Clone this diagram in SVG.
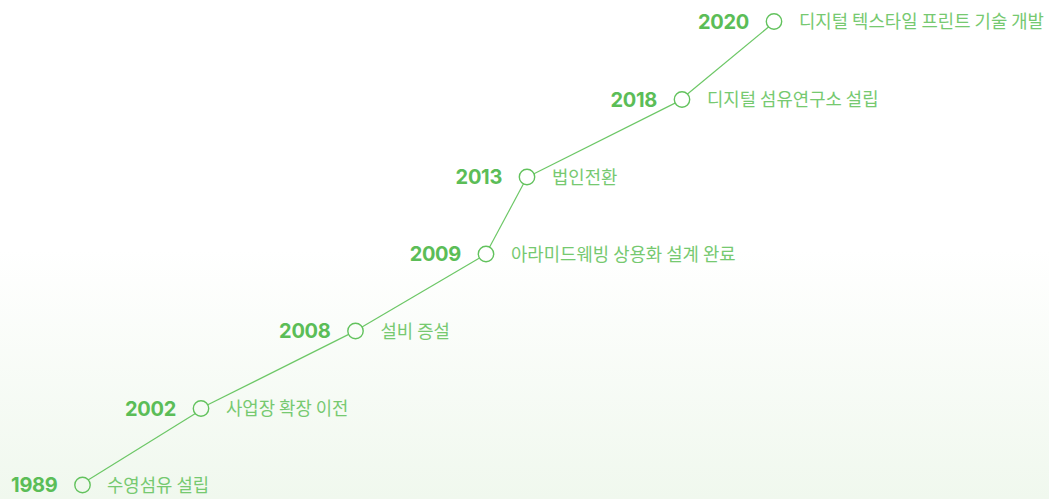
<svg xmlns="http://www.w3.org/2000/svg" width="1049" height="499" viewBox="0 0 1049 499">
<defs>
<linearGradient id="bg" x1="0" y1="0" x2="0" y2="1">
<stop offset="0" stop-color="#ffffff"/>
<stop offset="0.5" stop-color="#ffffff"/>
<stop offset="1" stop-color="#f0f8ee"/>
</linearGradient>
<style>
.yr{font-family:Inter,"Liberation Sans",sans-serif;font-weight:700;font-size:20px;fill:#5bbd57;text-anchor:end;letter-spacing:-0.3px}
.lb{font-family:"Noto Sans CJK KR","Noto Sans",sans-serif;font-size:17.8px;fill:#76c970}
.dot{fill:none;stroke:#62c25d;stroke-width:1.4}
.ln{stroke:#6cc766;stroke-width:1.2;fill:none}
</style>
</defs>
<rect width="1049" height="499" fill="url(#bg)"/>
<g id="connectors">
<line class="ln" x1="88.1" y1="479.9" x2="195.4" y2="413.6"/>
<line class="ln" x1="207.8" y1="404.8" x2="348.7" y2="334.4"/>
<line class="ln" x1="362.0" y1="326.9" x2="479.5" y2="258.1"/>
<line class="ln" x1="489.5" y1="247.3" x2="523.5" y2="183.8"/>
<line class="ln" x1="534.0" y1="173.7" x2="675.0" y2="103.1"/>
<line class="ln" x1="687.5" y1="94.0" x2="768.5" y2="27.0"/>
</g>
<g id="n1989"><circle class="dot" cx="82.5" cy="485" r="7.7"/><text class="yr" x="57.5" y="492">1989</text><text class="lb" x="107" y="491.5">수영섬유 설립</text></g>
<g id="n2002"><circle class="dot" cx="201" cy="408.5" r="7.7"/><text class="yr" x="176" y="415.5">2002</text><text class="lb" x="226" y="415">사업장 확장 이전</text></g>
<g id="n2008"><circle class="dot" cx="355.5" cy="331" r="7.7"/><text class="yr" x="330.5" y="338">2008</text><text class="lb" x="380.5" y="337.5">설비 증설</text></g>
<g id="n2009"><circle class="dot" cx="486" cy="254" r="7.7"/><text class="yr" x="461" y="261">2009</text><text class="lb" x="511" y="260.5">아라미드웨빙 상용화 설계 완료</text></g>
<g id="n2013"><circle class="dot" cx="527" cy="177" r="7.7"/><text class="yr" x="502" y="184">2013</text><text class="lb" x="552" y="183.5">법인전환</text></g>
<g id="n2018"><circle class="dot" cx="682" cy="99.5" r="7.7"/><text class="yr" x="657" y="106.5">2018</text><text class="lb" x="707" y="106">디지털 섬유연구소 설립</text></g>
<g id="n2020"><circle class="dot" cx="774" cy="21.5" r="7.7"/><text class="yr" x="749" y="28.5">2020</text><text class="lb" x="799" y="28">디지털 텍스타일 프린트 기술 개발</text></g>
</svg>
